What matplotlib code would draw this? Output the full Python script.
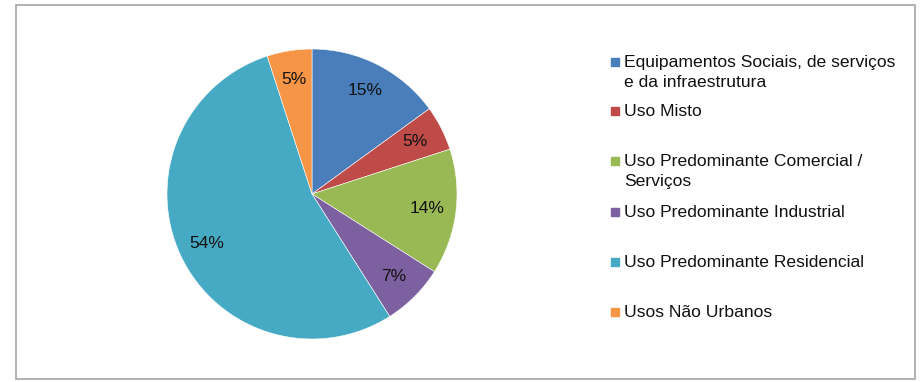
import matplotlib.pyplot as plt
from matplotlib.patches import Rectangle

plt.rcParams['font.family'] = ['Liberation Sans', 'DejaVu Sans']

# dados
categorias = [
    'Equipamentos Sociais, de serviços\ne da infraestrutura',
    'Uso Misto',
    'Uso Predominante Comercial /\nServiços',
    'Uso Predominante Industrial',
    'Uso Predominante Residencial',
    'Usos Não Urbanos',
]
valores = [15, 5, 14, 7, 54, 5]
cores = ['#4A7EBB', '#BE4B48', '#98B954', '#7D60A0', '#46AAC5', '#F69546']

W, H = 922, 382
fig = plt.figure(figsize=(W / 100, H / 100), dpi=100)

# moldura
fig.patches.append(Rectangle((15.5 / W, 1 - 379 / H), 899 / W, 374 / H,
                             transform=fig.transFigure, fill=False,
                             edgecolor='#A6A6A6', linewidth=1.2))

# pizza
cx, cy, r = 312, 194, 145
ax = fig.add_axes([(cx - r) / W, (H - cy - r) / H, 2 * r / W, 2 * r / H])
fatias, textos, autotextos = ax.pie(
    valores, colors=cores, startangle=90, counterclock=False,
    autopct=lambda p: f'{p:.0f}%', pctdistance=0.8,
    wedgeprops=dict(linewidth=0.4, edgecolor='white'),
    textprops=dict(fontsize=12.5, color='#111111'))
ax.set_xlim(-1, 1)
ax.set_ylim(-1, 1)
ax.set_aspect('equal')

# legenda (manual, estilo Excel)
ys_leg = [62, 111, 161, 212, 262, 312]
for cat, cor, y in zip(categorias, cores, ys_leg):
    fig.patches.append(Rectangle((611 / W, 1 - (y + 4) / H), 8 / W, 8 / H,
                                 transform=fig.transFigure, color=cor))
    linhas = cat.split('\n')
    for i, linha in enumerate(linhas):
        fig.text(624 / W, 1 - (y + 5 + 20 * i) / H, linha, fontsize=12.6,
                 va='baseline', ha='left', color='#111111')

fig.savefig('out.png', dpi=100)
